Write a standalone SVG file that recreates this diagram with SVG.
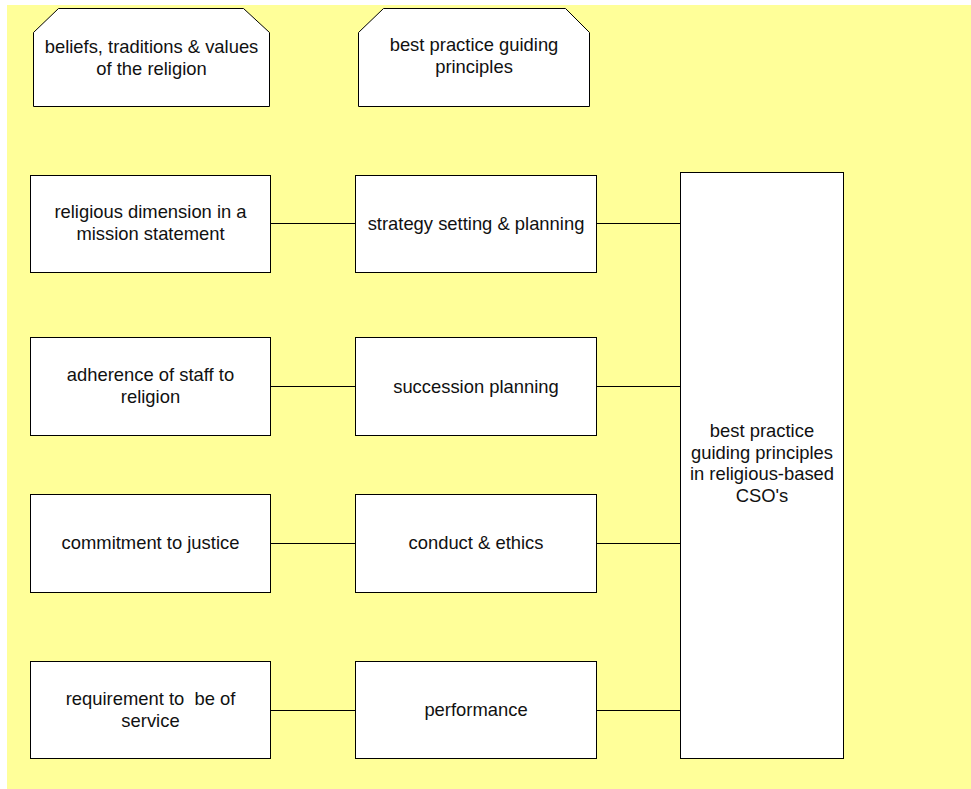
<svg xmlns="http://www.w3.org/2000/svg" width="971" height="789" viewBox="0 0 971 789">
  <style>
    .box { fill: #ffffff; stroke: #000000; stroke-width: 1; }
    .link { fill: none; stroke: #000000; stroke-width: 1; }
    .lbl { font-family: "Liberation Sans", Arial, sans-serif; font-size: 18.4px; fill: #111111; text-anchor: middle; white-space: pre; }
  </style>
  <rect x="7" y="5" width="964" height="784" fill="#ffff99"/>

  <g id="connectors">
    <line class="link" x1="270" y1="223.5" x2="355" y2="223.5"/>
    <line class="link" x1="596" y1="223.5" x2="680" y2="223.5"/>
    <line class="link" x1="270" y1="386.5" x2="355" y2="386.5"/>
    <line class="link" x1="596" y1="386.5" x2="680" y2="386.5"/>
    <line class="link" x1="270" y1="543.5" x2="355" y2="543.5"/>
    <line class="link" x1="596" y1="543.5" x2="680" y2="543.5"/>
    <line class="link" x1="270" y1="710.5" x2="355" y2="710.5"/>
    <line class="link" x1="596" y1="710.5" x2="680" y2="710.5"/>
  </g>

  <g id="beliefs">
    <polygon class="box" points="58.5,8.5 243.5,8.5 269.5,32.5 269.5,106.5 33.5,106.5 33.5,32.5"/>
    <text class="lbl" x="151.5" y="53">beliefs, traditions &amp; values</text>
    <text class="lbl" x="151.5" y="74.5">of the religion</text>
  </g>

  <g id="principles">
    <polygon class="box" points="383.5,8.5 565.5,8.5 589.5,32.5 589.5,106.5 358.5,106.5 358.5,32.5"/>
    <text class="lbl" x="474" y="51">best practice guiding</text>
    <text class="lbl" x="474" y="72.5">principles</text>
  </g>

  <g id="mission">
    <rect class="box" x="30.5" y="175.5" width="240" height="97"/>
    <text class="lbl" x="150.5" y="218">religious dimension in a</text>
    <text class="lbl" x="150.5" y="240">mission statement</text>
  </g>

  <g id="staff">
    <rect class="box" x="30.5" y="337.5" width="240" height="98"/>
    <text class="lbl" x="150.5" y="381">adherence of staff to</text>
    <text class="lbl" x="150.5" y="402.5">religion</text>
  </g>

  <g id="justice">
    <rect class="box" x="30.5" y="494.5" width="240" height="98"/>
    <text class="lbl" x="150.5" y="549">commitment to justice</text>
  </g>

  <g id="service">
    <rect class="box" x="30.5" y="661.5" width="240" height="97"/>
    <text class="lbl" x="150.5" y="705" xml:space="preserve">requirement to  be of</text>
    <text class="lbl" x="150.5" y="726.5">service</text>
  </g>

  <g id="strategy">
    <rect class="box" x="355.5" y="175.5" width="241" height="97"/>
    <text class="lbl" x="476" y="229.5">strategy setting &amp; planning</text>
  </g>

  <g id="succession">
    <rect class="box" x="355.5" y="337.5" width="241" height="98"/>
    <text class="lbl" x="476" y="392.5">succession planning</text>
  </g>

  <g id="conduct">
    <rect class="box" x="355.5" y="494.5" width="241" height="98"/>
    <text class="lbl" x="476" y="549">conduct &amp; ethics</text>
  </g>

  <g id="performance">
    <rect class="box" x="355.5" y="661.5" width="241" height="97"/>
    <text class="lbl" x="476" y="716">performance</text>
  </g>

  <g id="cso">
    <rect class="box" x="680.5" y="172.5" width="163" height="586"/>
    <text class="lbl" x="762" y="437">best practice</text>
    <text class="lbl" x="762" y="458.5">guiding principles</text>
    <text class="lbl" x="762" y="480">in religious-based</text>
    <text class="lbl" x="762" y="501.5">CSO's</text>
  </g>
</svg>
